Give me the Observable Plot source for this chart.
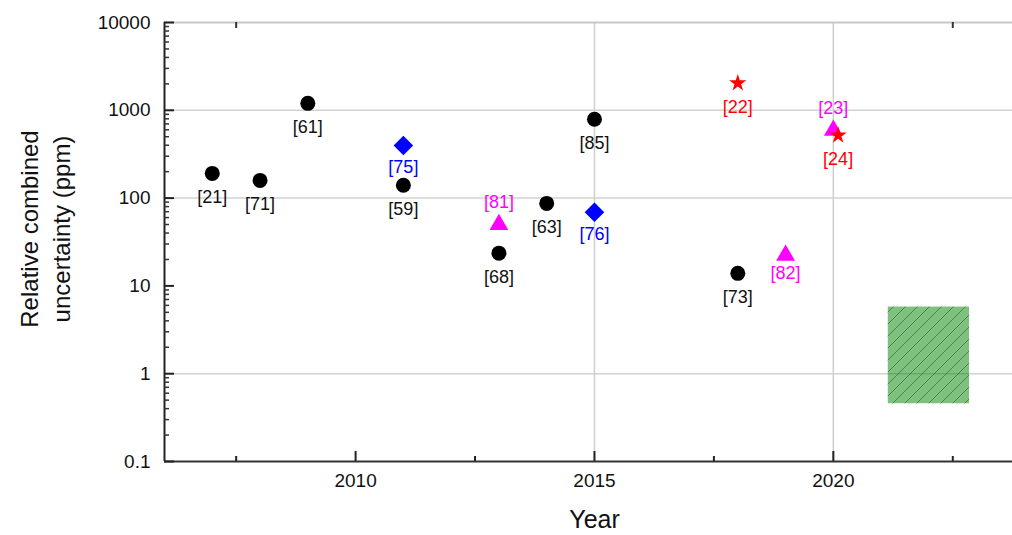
<!DOCTYPE html>
<html><head><meta charset="utf-8">
<script src="https://cdn.jsdelivr.net/npm/d3@7"></script>
<script src="https://cdn.jsdelivr.net/npm/@observablehq/plot@0.6"></script>
<style>
html,body{margin:0;padding:0;background:#fff;}
#chart svg{display:block;}
</style>
</head><body><div id="chart"></div>
<script>
// ---- data ----
const xDomain = [2006, 2023.75];
const yDomain = [0.1, 10000];

const yTickValues = [0.1, 1, 10, 100, 1000, 10000];
const yTickLabels = ["0.1", "1", "10", "100", "1000", "10000"];
const xTickValues = [2010, 2015, 2020];
const xTickLabels = ["2010", "2015", "2020"];
const xMinorTicks = [2007.5, 2012.5, 2017.5, 2022.5];
const xTopTicks = [2007.5, 2022.5];
const yGrid = [1, 100, 1000];
const xGrid = [2015, 2020];

const circleYears  = [2007, 2008, 2009, 2011, 2013, 2014, 2015, 2018];
const circleValues = [191, 159, 1200, 140, 23.6, 87, 790, 13.9];
const circleRefs   = ["[21]", "[71]", "[61]", "[59]", "[68]", "[63]", "[85]", "[73]"];

const diamondYears  = [2011, 2015];
const diamondValues = [398, 69];
const diamondRefs   = ["[75]", "[76]"];

const triangleYears  = [2013, 2019, 2020];
const triangleValues = [50, 22.3, 590];
const triangleRefs   = ["[81]", "[82]", "[23]"];
const triangleLabelSide = ["above", "below", "above"];

const starYears  = [2018, 2020.1];
const starValues = [2040, 518];
const starRefs   = ["[22]", "[24]"];

const targetYears = [2021.15, 2022.85];
const targetRange = [0.455, 5.74];

const xTitle = "Year";
const yTitle = "Relative combined\nuncertainty (ppm)";

// ---- build ----
const W = 1012, H = 535, mL = 164, mR = 0, mT = 22, mB = 74;
const frameW = W - mL - mR, frameH = H - mT - mB;

const rows = (xs, ys, refs, extra) => xs.map((x, i) => ({x, y: ys[i], ref: refs[i], side: extra ? extra[i] : "below"}));
const circles = rows(circleYears, circleValues, circleRefs);
const diamonds = rows(diamondYears, diamondValues, diamondRefs);
const triangles = rows(triangleYears, triangleValues, triangleRefs, triangleLabelSide);
const stars = rows(starYears, starValues, starRefs);
const target = [{x1: targetYears[0], x2: targetYears[1], y1: targetRange[0], y2: targetRange[1]}];

const yMinor = [];
for (const d of yTickValues.slice(0, -1)) for (let k = 2; k <= 9; k++) yMinor.push(d * k);

const labelMarks = (data, color, below, above) => [
  Plot.text(data.filter(d => d.side === "below"), {x: "x", y: "y", text: "ref", dy: below, fill: color, fontSize: 18}),
  Plot.text(data.filter(d => d.side === "above"), {x: "x", y: "y", text: "ref", dy: above, fill: color, fontSize: 18})
];

const chart = Plot.plot({
  width: W, height: H,
  marginLeft: mL, marginRight: mR, marginTop: mT, marginBottom: mB,
  x: {type: "linear", domain: xDomain},
  y: {type: "log", domain: yDomain},
  style: {fontFamily: "'Liberation Sans', Arial, sans-serif", fontSize: "19px", background: "white", color: "#111"},
  marks: [
    Plot.ruleY(yGrid, {stroke: "#d2d2d2", strokeWidth: 1.5}),
    Plot.ruleX(xGrid, {stroke: "#cfcfcf", strokeWidth: 1.5}),
    Plot.ruleY([yDomain[1]], {stroke: "#c8c8c8", strokeWidth: 2}),
    Plot.rect(target, {x1: "x1", x2: "x2", y1: "y1", y2: "y2", fill: "#008000", fillOpacity: 0.5}),
    Plot.rect(target, {x1: "x1", x2: "x2", y1: "y1", y2: "y2", fill: "url(#hatch)"}),
    Plot.ruleY([yDomain[0]], {stroke: "#333", strokeWidth: 2}),
    Plot.ruleX([xDomain[0]], {stroke: "#222", strokeWidth: 2}),
    Plot.tickY(yTickValues, {y: d => d, insetRight: frameW - 10, stroke: "#222", strokeWidth: 2}),
    Plot.tickY(yMinor, {y: d => d, insetRight: frameW - 5, stroke: "#333", strokeWidth: 1.5}),
    Plot.tickX(xTickValues, {x: d => d, insetTop: frameH - 10, stroke: "#222", strokeWidth: 2}),
    Plot.tickX(xMinorTicks, {x: d => d, insetTop: frameH - 5, stroke: "#222", strokeWidth: 2}),
    Plot.tickX(xTopTicks, {x: d => d, insetBottom: frameH - 6, stroke: "#333", strokeWidth: 2}),
    Plot.dot(circles, {x: "x", y: "y", r: 7.5, fill: "black", symbol: "circle"}),
    Plot.dot(diamonds, {x: "x", y: "y", r: 8.8, fill: "#0000ff", symbol: "diamond2"}),
    Plot.dot(triangles, {x: "x", y: "y", r: 7, fill: "#ff00ff", symbol: "triangle"}),
    Plot.dot(stars, {x: "x", y: "y", r: 5.4, fill: "#ff0000", symbol: "star"}),
    ...labelMarks(circles, "#111", 24, -22),
    ...labelMarks(diamonds, "#0000ff", 22, -22),
    ...labelMarks(triangles, "#ff00ff", 18, -22),
    ...labelMarks(stars, "#ff0000", 24, -22),
    Plot.axisY({ticks: yTickValues, tickSize: 0, tickPadding: 14, label: null,
      tickFormat: d => yTickLabels[yTickValues.indexOf(d)]}),
    Plot.axisX({ticks: xTickValues, tickSize: 0, tickPadding: 12, label: null,
      tickFormat: d => xTickLabels[xTickValues.indexOf(d)]}),
    Plot.text([xTitle], {frameAnchor: "bottom", dy: 66, dx: 6, fontSize: 25, fill: "#111"}),
    Plot.text([yTitle], {frameAnchor: "left", textAnchor: "middle", lineAnchor: "middle", dx: -121, dy: -13, rotate: -90, fontSize: 24, lineHeight: 1.33, fill: "#111"})
  ]
});

const ns = "http://www.w3.org/2000/svg";
const defs = document.createElementNS(ns, "defs");
const pattern = document.createElementNS(ns, "pattern");
pattern.setAttribute("id", "hatch");
pattern.setAttribute("patternUnits", "userSpaceOnUse");
pattern.setAttribute("width", "12");
pattern.setAttribute("height", "12");
const hp = document.createElementNS(ns, "path");
hp.setAttribute("d", "M-3,3 L3,-3 M0,12 L12,0 M9,15 L15,9");
hp.setAttribute("stroke", "#1e7a1e");
hp.setAttribute("stroke-opacity", "0.7");
hp.setAttribute("stroke-width", "1");
pattern.appendChild(hp);
defs.appendChild(pattern);
chart.insertBefore(defs, chart.firstChild);

document.getElementById("chart").appendChild(chart);
</script>
</body></html>
